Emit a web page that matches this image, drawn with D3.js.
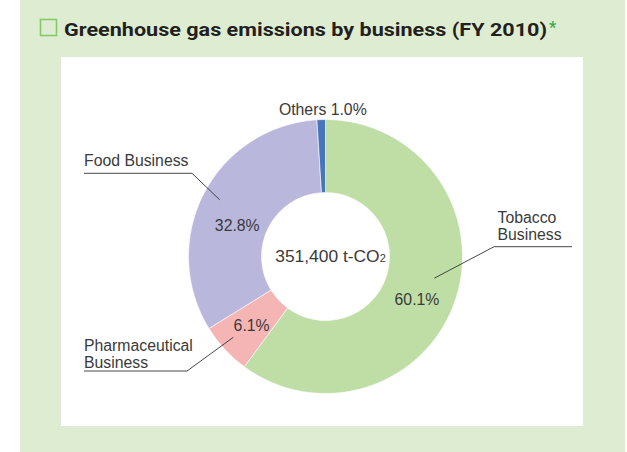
<!DOCTYPE html>
<html>
<head>
<meta charset="utf-8">
<script src="https://cdn.jsdelivr.net/npm/d3@7"></script>
<style>
  html, body { margin: 0; padding: 0; background: #ffffff; }
  svg { display: block; }
</style>
</head>
<body>
<svg id="chart" width="627" height="452"></svg>
<script>
// Greenhouse gas emissions by business, FY 2010 (share of total, %)
const categories = ["Tobacco Business", "Pharmaceutical Business", "Food Business", "Others"];
const shares = [60.1, 6.1, 32.8, 1.0];
const colors = ["#bfdea6", "#f6b5b5", "#bab7dc", "#4876bd"];
const totalLabel = "351,400 t-CO";
const titleText = "Greenhouse gas emissions by business (FY 2010)";

const svg = d3.select("#chart");

// backgrounds
svg.append("rect").attr("x", 20).attr("y", 0).attr("width", 605).attr("height", 452).attr("fill", "#deedd2");
svg.append("rect").attr("x", 61).attr("y", 57).attr("width", 522).attr("height", 369).attr("fill", "#ffffff");

// title with checkbox marker
svg.append("rect").attr("x", 40.5).attr("y", 19.5).attr("width", 16).attr("height", 16)
  .attr("fill", "none").attr("stroke", "#86c96a").attr("stroke-width", 1.6);
const title = svg.append("text").attr("x", 64).attr("y", 36)
  .attr("font-family", "Roboto, 'Liberation Sans', sans-serif")
  .attr("font-weight", 700).attr("font-size", 18.5).attr("fill", "#231f20")
  .text(titleText);
title.attr("textLength", 483).attr("lengthAdjust", "spacingAndGlyphs");
svg.append("text").attr("x", 549).attr("y", 33)
  .attr("font-family", "Roboto, 'Liberation Sans', sans-serif")
  .attr("font-weight", 700).attr("font-size", 16).attr("fill", "#3fae49")
  .text("*");

// donut
const cx = 325.5, cy = 256.5, rOuter = 137, rInner = 64;
const g = svg.append("g").attr("transform", `translate(${cx},${cy})`);
const pie = d3.pie().sort(null).value(d => d.v).startAngle(0).endAngle(2 * Math.PI);
const data = categories.map((c, i) => ({ name: c, v: shares[i], color: colors[i] }));
const arcs = pie(data);
const arc = d3.arc().innerRadius(rInner).outerRadius(rOuter);

g.selectAll("path.slice").data(arcs).enter().append("path")
  .attr("class", "slice")
  .attr("d", arc)
  .attr("fill", d => d.data.color)
  .attr("stroke", "#ffffff").attr("stroke-width", 0.6);

const font = "'Liberation Sans', Arial, sans-serif";
const textColor = "#3a3a3a";
const labelSize = 15.8;
const fmt = v => d3.format(".1f")(v) + "%";

// percentage labels inside the ring: centroid of a mid-ring arc, with a small vertical nudge
const labelArc = d3.arc().innerRadius(100.5).outerRadius(100.5);
const nudge = { "Tobacco Business": [-4, 12], "Pharmaceutical Business": [0, 1], "Food Business": [1, 15] };
arcs.filter(d => d.data.name !== "Others").forEach(d => {
  const [x, y] = labelArc.centroid(d);
  const n = nudge[d.data.name];
  g.append("text")
    .attr("x", x + n[0]).attr("y", y + n[1])
    .attr("dy", "0.35em")
    .attr("text-anchor", "middle")
    .attr("font-family", font).attr("font-size", labelSize).attr("fill", textColor)
    .text(fmt(d.data.v));
});

// "Others" label above the ring
const others = arcs.find(d => d.data.name === "Others");
svg.append("text").attr("x", 322.8).attr("y", 115)
  .attr("text-anchor", "middle")
  .attr("font-family", font).attr("font-size", labelSize).attr("fill", textColor)
  .text(`${others.data.name} ${fmt(others.data.v)}`);

// callout labels with underline + leader into the slice
const callouts = [
  { name: "Food Business", lines: ["Food Business"], x: 84, baselines: [166], underline: [84, 192, 173.3], angleFrac: 0.507, r: 120 },
  { name: "Pharmaceutical Business", lines: ["Pharmaceutical", "Business"], x: 84, baselines: [351, 367.5], underline: [84, 187, 371], angleFrac: 0.565, r: 122.6 },
  { name: "Tobacco Business", lines: ["Tobacco", "Business"], x: 497.5, baselines: [223.3, 240], underline: [572, 494, 246.7], angleFrac: 0.468, r: 111 }
];
callouts.forEach(c => {
  const d = arcs.find(a => a.data.name === c.name);
  const ang = d.startAngle + (d.endAngle - d.startAngle) * c.angleFrac;
  const px = cx + c.r * Math.sin(ang), py = cy - c.r * Math.cos(ang);
  const [x0, x1, yu] = c.underline;
  svg.append("path")
    .attr("d", `M${x0},${yu}L${x1},${yu}L${px},${py}`)
    .attr("fill", "none").attr("stroke", "#333333").attr("stroke-width", 0.9);
  c.lines.forEach((t, i) => {
    svg.append("text").attr("x", c.x).attr("y", c.baselines[i])
      .attr("font-family", font).attr("font-size", labelSize).attr("fill", textColor)
      .text(t);
  });
});

// total in the centre
const centre = svg.append("text").attr("x", 330.5).attr("y", 262.3)
  .attr("text-anchor", "middle")
  .attr("font-family", font).attr("font-size", 17.4).attr("fill", textColor);
centre.append("tspan").text(totalLabel);
centre.append("tspan").attr("font-size", 11).attr("dy", 0).text("2");
</script>
</body>
</html>
